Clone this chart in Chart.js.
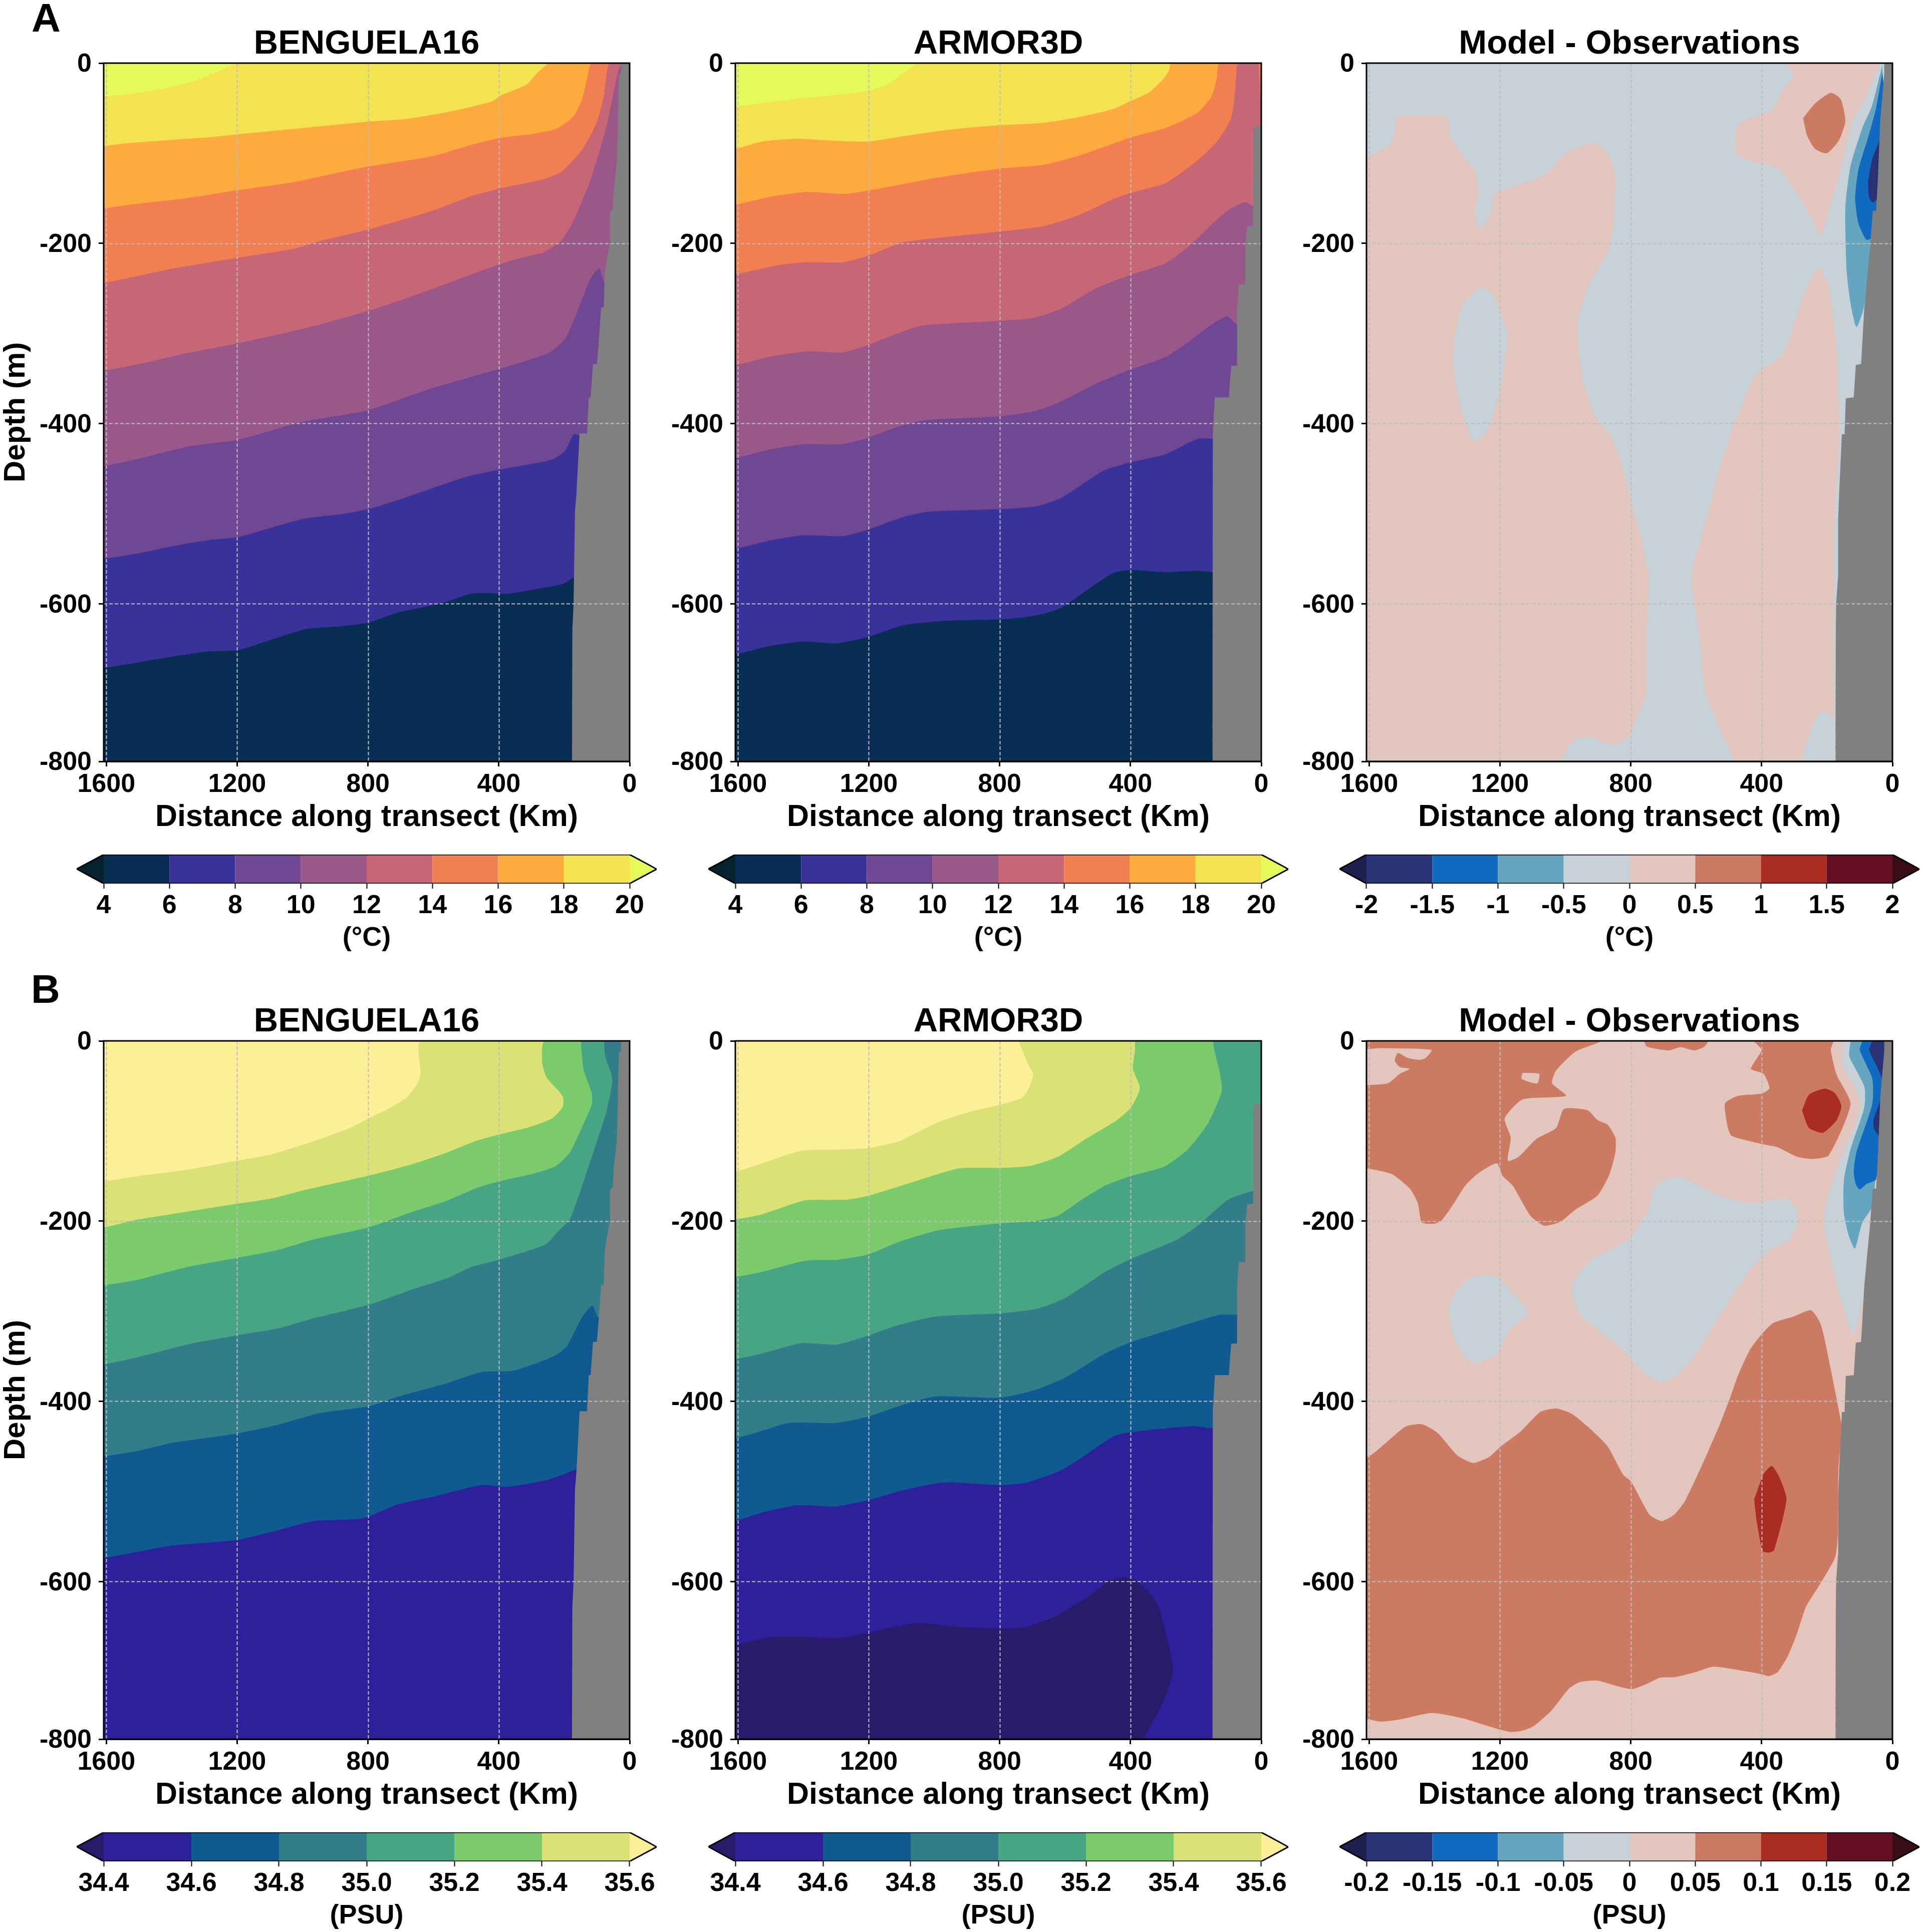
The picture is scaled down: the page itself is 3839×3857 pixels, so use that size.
<!DOCTYPE html>
<html><head><meta charset="utf-8">
<script src="https://cdn.jsdelivr.net/npm/chart.js@4"></script>
<style>
html,body{margin:0;padding:0;background:#fff}
body{position:relative;width:3839px;height:3857px;overflow:hidden;font-family:"Liberation Sans",Arial,sans-serif}
canvas{position:absolute}
.tag{position:absolute;font:bold 80px/1 "Liberation Sans",Arial,sans-serif;color:#000}
</style></head><body>
<div class="tag" style="left:63px;top:-4px">A</div>
<div class="tag" style="left:62px;top:1935px">B</div>
<script>
/* ---------- axes ---------- */
const X_TICKS=[1600,1200,800,400,0];
const X_LABELS=['1600','1200','800','400','0'];
const Y_TICKS=[0,-200,-400,-600,-775];
const Y_LABELS=['0','-200','-400','-600','-800'];
const X_EDGE=1608, Y_EDGE=-775;

/* ---------- colour bars ---------- */
const T_LEVELS=[4,6,8,10,12,14,16,18,20];
const T_LABELS=['4','6','8','10','12','14','16','18','20'];
const T_COLORS=['#04232f','#082e54','#39329a','#704793','#9a5789','#c76674','#f17f52','#fdab3e','#f3e350','#e6f95a'];
const S_LEVELS=[34.4,34.6,34.8,35.0,35.2,35.4,35.6];
const S_LABELS=['34.4','34.6','34.8','35.0','35.2','35.4','35.6'];
const S_COLORS=['#2a1a6a','#2e209a','#0f5a90','#317d8a','#48a583','#7bcb6c','#dae275','#fdee98'];
const DT_LEVELS=[-2,-1.5,-1,-0.5,0,0.5,1,1.5,2];
const DT_LABELS=['-2','-1.5','-1','-0.5','0','0.5','1','1.5','2'];
const DS_LEVELS=[-0.2,-0.15,-0.1,-0.05,0,0.05,0.1,0.15,0.2];
const DS_LABELS=['-0.2','-0.15','-0.1','-0.05','0','0.05','0.1','0.15','0.2'];
const D_COLORS=['#1d1f4c','#283274','#106ac0','#66a5c0','#c6d2d7','#e2c6bd','#cc7b62','#ab2c22','#650f25','#3a0d19'];
const GREY='#808080';

/* ---------- topography, [km, depth m] ---------- */
const TOPO_MODEL=[[0,0],[26,0],[27,-12],[33,-13],[36,-66],[39,-111],[49,-142],[51.5,-162],[60,-165],[60,-198],[76,-233],[79,-271],[87,-271],[94,-307],[100,-334],[112,-334],[119,-371],[125,-371],[130,-411],[153,-411],[162,-476],[167,-497],[171,-598],[175,-628],[175,-775],[0,-775]];
const TOPO_OBS=[[0,-70],[23.6,-70],[24.7,-181],[43,-181],[49,-204],[49,-245.6],[69,-245.6],[74,-275],[74,-336],[92,-336],[99,-371],[142,-371],[148,-412],[148,-775],[0,-775]];
const TOPO_DIFF=[[0,0],[25,0],[25,-11],[37.5,-66],[43.5,-121],[49.5,-164],[60,-164],[68,-203],[80,-249],[86,-272],[95.5,-334],[112,-335],[118,-371],[142.6,-372],[146,-412],[154.5,-412],[163,-479],[166,-508],[166,-568],[172,-600],[173,-624],[173,-775],[0,-775]];

/* ---------- temperature, BENGUELA16 isotherms ---------- */
const A1_T20=[[1608,-37],[1526,-34],[1434,-29],[1342,-21],[1263,-10],[1197,0]];
const A1_T18=[[1608,-92],[1539,-89],[1395,-85],[1276,-82],[1197,-79],[1026,-73],[803,-65],[684,-62],[553,-54],[421,-42.5],[395,-36],[316,-24],[283,-11],[247,0]];
const A1_T16=[[1608,-161],[1526,-157],[1355,-150],[1197,-141],[1026,-132],[803,-115],[605,-103.5],[487,-91],[395,-83],[303,-79],[224,-73],[171,-59],[145,-40],[129,-15],[118,0]];
const A1_T14=[[1608,-244],[1526,-238],[1395,-228],[1197,-216],[1026,-206],[947,-197.5],[803,-185],[605,-164],[487,-148],[395,-139],[276,-130],[210,-121],[145,-96],[99,-64.5],[79,-36],[63,0]];
const A1_T12=[[1608,-341],[1500,-334],[1355,-322],[1197,-311],[1000,-295],[803,-275.5],[605,-251],[434,-228],[342,-217],[263,-210],[210,-197.5],[171,-174.5],[118,-128],[72,-72],[39,-15],[26,0]];
const A1_T10=[[1608,-447],[1500,-439],[1355,-426],[1197,-418],[1000,-398],[803,-385.5],[605,-361],[395,-339],[250,-322],[197,-306],[158,-274],[118,-238],[92,-228],[75,-244]];
const A1_T8=[[1608,-550],[1500,-544],[1395,-536],[1289,-529.5],[1197,-526],[1000,-506],[868,-500],[799,-495],[717,-486],[605,-472],[487,-458],[395,-451],[237,-440],[197,-430],[171,-412],[155,-413]];
const A1_T6=[[1608,-671],[1500,-665],[1395,-658.5],[1289,-653],[1197,-651.6],[1079,-638],[987,-628],[882,-625],[799,-621],[711,-610],[579,-600],[487,-589],[434,-588],[375,-589],[276,-583],[204,-578],[171,-571],[160,-571]];

/* ---------- temperature, ARMOR3D isotherms ---------- */
const A2_T20=[[1608,-48],[1526,-44.6],[1418,-39.5],[1311,-36],[1204,-31],[1140,-23],[1086,-9],[1048,0]];
const A2_T18=[[1608,-95],[1526,-87],[1418,-84],[1311,-86],[1204,-87],[1075,-80],[946,-73.5],[799,-69],[667,-66.3],[560,-60],[453,-51],[399,-42],[345,-33],[303,-19],[283,-9],[276,0]];
const A2_T16=[[1608,-157],[1504,-148.6],[1392,-143],[1268,-145],[1150,-138],[989,-127],[799,-117],[667,-113],[560,-103],[399,-82.5],[292,-72],[195,-55],[152,-37],[136,-17],[129,0]];
const A2_T14=[[1608,-234],[1472,-224],[1386,-221],[1280,-221],[1204,-214],[1097,-199],[989,-194],[799,-187],[667,-181],[560,-169],[453,-151],[399,-144],[292,-133],[195,-108],[131,-85],[93,-62],[83,-42],[77,-17],[72,0]];
const A2_T12=[[1608,-335],[1504,-326],[1386,-320],[1280,-321],[1204,-313],[1097,-298],[1033,-291],[799,-286],[699,-283],[614,-273],[506,-250],[399,-235],[292,-222],[217,-202],[152,-179],[104,-164],[50,-154],[24,-159]];
const A2_T10=[[1608,-438],[1504,-429],[1397,-423],[1280,-423],[1204,-416],[1097,-402],[1021,-396],[799,-392],[689,-386],[614,-376],[506,-356],[399,-340],[292,-326],[217,-308],[152,-290],[104,-281],[74,-290]];
const A2_T8=[[1608,-539],[1504,-530],[1397,-524],[1280,-525],[1204,-518],[1097,-504],[1021,-498],[799,-495],[689,-492],[614,-483],[485,-453],[399,-443],[292,-434],[195,-417],[147,-417]];
const A2_T6=[[1608,-656],[1504,-647],[1397,-642],[1300,-644],[1204,-637],[1097,-624],[968,-619],[775,-617],[689,-613],[614,-605],[517,-581],[453,-566],[399,-562.5],[292,-565],[195,-563.5],[147,-565]];
const A2_CORNER=[[8,0],[-10,0],[-10,-50],[2,-40]];

/* ---------- temperature, model minus observations ---------- */
const A3_POS_WEST=[[1700,-104],[1608,-104],[1572,-98],[1533,-89],[1518,-72],[1518,-59],[1439,-58],[1361,-60],[1355,-79],[1318,-100],[1276,-121],[1264,-148],[1276,-160],[1270,-180],[1258,-183],[1234,-171],[1222,-157],[1216,-144],[1143,-135],[1059,-123],[992,-98],[908,-89],[871,-100],[847,-123],[853,-178],[871,-210],[932,-249],[962,-284],[962,-309],[944,-355],[903,-395],[860,-414],[828,-445],[796,-490],[769,-526],[746,-567],[750,-626],[753,-702],[775,-721],[801,-744],[834,-755],[866,-756],[903,-750],[936,-748],[968,-750],[989,-757],[1011,-775],[1030,-850],[1700,-850]];
const A3_POS_EAST=[[460,-850],[485,-775],[517,-747],[571,-700],[587,-642],[614,-568],[576,-516],[539,-463.5],[485,-400.5],[472,-391],[430,-352],[394,-338],[334,-323],[303,-291.5],[267,-252.5],[225,-228],[195,-249],[170,-320],[165,-374],[161,-412],[174,-479],[180,-600],[180,-700],[179,-725],[217,-719],[244,-734],[276,-775],[290,-850]];
const A3_POS_COAST=[[327,10],[327,0],[303,-13],[334,-29],[370,-52],[472,-68],[478.5,-100],[436,-109],[352,-116],[303,-139],[255,-167],[219,-191.5],[201,-171],[164,-125],[122,-64.5],[86,-40],[56,-15],[37,0],[37,10]];
const A3_NEG_OVAL=[[1258,-248],[1222,-256],[1197.6,-277],[1177,-302],[1185.5,-330.5],[1197.6,-359],[1234,-405],[1270,-419],[1288,-416],[1318,-384],[1337,-352],[1343,-330.5],[1337,-302],[1313,-267],[1258,-248]];
const A3_WARM=[[273,-61],[237,-45],[188.5,-33],[158,-40],[144,-64.5],[164,-86],[200.6,-100],[237,-95],[261,-80.5],[273,-61]];
const A3_COOL1=[[31,-2.5],[62,-47],[92,-72],[128,-114],[144,-160],[140,-231],[128,-267],[110,-293],[88,-272],[60,-200],[20,-100],[31,-2.5]];
const A3_COOL2=[[31,-11],[50,-50],[74,-82],[104,-118],[114,-150],[104,-178],[80,-196],[64,-194],[40,-150],[20,-50],[31,-11]];
const A3_COOL3=[[31,-36],[37.5,-82],[62,-107],[74,-132],[71,-150],[59,-155],[47,-150],[30,-100],[31,-36]];

/* ---------- salinity, BENGUELA16 isohalines ---------- */
const B1_S356=[[1608,-155.6],[1492,-149.5],[1353,-143],[1203,-133],[1095,-126],[988,-114],[859,-97.3],[798,-86],[741,-76],[682,-63],[650,-48],[639,-35.5],[639,0]];
const B1_S354=[[1608,-207],[1514,-199],[1406,-192.6],[1203,-181],[1095,-175],[988,-165],[798,-149.5],[666,-137],[559,-124],[473,-111.5],[400,-104],[312,-96.3],[237,-86],[205,-73.5],[203,-63],[216,-56],[253,-41],[267,-25],[261,0]];
const B1_S352=[[1608,-271],[1503,-265],[1353,-251],[1203,-241],[1074,-232],[967,-220.5],[798,-207],[666,-190],[559,-177.5],[473,-164],[400,-156],[291,-147],[226,-139],[183,-124],[146,-96],[116,-71],[116,-58],[140,-33],[146,-15],[146,0]];
const B1_S350=[[1608,-359],[1503,-351],[1353,-337],[1203,-327],[1074,-319],[967,-308],[798,-293],[666,-276],[559,-263.5],[484,-251],[400,-243],[258,-226],[216,-210.5],[183,-198],[151,-167],[114,-127],[71,-78.6],[53,-45.6],[57,-35.5],[74,-18],[76,0]];
const B1_S348=[[1608,-461],[1503,-455],[1396,-446],[1203,-436],[1074,-426],[945,-413],[798,-405.5],[709,-395],[559,-380],[452,-367.5],[355,-366],[237,-351],[194,-340],[146,-307],[114,-294],[94,-307]];
const B1_S346=[[1608,-574],[1503,-567],[1396,-560],[1203,-554],[1074,-543],[967,-533],[817,-530],[709,-514.5],[602,-506],[452,-493],[377,-495],[259,-488],[194,-480],[165,-476]];

/* ---------- salinity, ARMOR3D isohalines ---------- */
const B2_S356=[[1608,-145],[1552,-139],[1407,-122],[1298,-120.6],[1202,-119],[1105,-111],[984,-89.7],[876,-77.3],[799.5,-71],[731,-63],[706.5,-49],[698,-36.5],[712.5,-26],[731,-10],[739,0]];
const B2_S354=[[1608,-198],[1527,-192.6],[1394,-177],[1274,-176.4],[1202,-172],[1081,-158.5],[924,-141.5],[799.5,-141],[706.5,-138.7],[622,-128.7],[537,-109],[441,-87.9],[398.5,-73.8],[371,-52.5],[392.5,-31],[386,-10],[384,0]];
const B2_S352=[[1608,-262],[1527,-256.4],[1394,-244],[1298,-243],[1202,-237],[1105,-222.7],[984,-210],[799.5,-202.5],[694.6,-200],[622,-194],[549.5,-176.4],[477,-160.6],[398.5,-150],[296,-139.4],[223,-119.9],[163,-91.5],[121,-56],[127,-34.8],[139,-17],[145,0]];
const B2_S350=[[1608,-353],[1527,-347],[1407,-335.6],[1298,-337],[1202,-327],[1105,-315],[997,-306],[799.5,-302.5],[682,-297],[598,-285],[477,-256.4],[398.5,-242],[260,-221],[187,-203],[103,-176.6],[24,-166.7]];
const B2_S348=[[1608,-441],[1552,-435.6],[1443,-424],[1298,-424],[1202,-417],[1105,-405],[997,-394.7],[799.5,-396],[694.6,-387.8],[598,-373.4],[477,-346.8],[398.5,-334.4],[260,-318.4],[127,-304],[75,-304]];
const B2_S346=[[1608,-532.6],[1526,-523.5],[1418,-515.5],[1300,-516.7],[1200,-509.6],[1097,-499],[968,-490],[799,-493],[721,-490.5],[614,-477],[539,-460],[453,-439],[399,-434.4],[292,-430],[206,-427.5],[148,-430]];
const B2_S344=[[1700,-672],[1606,-670],[1504,-662],[1397,-661.6],[1290,-662.8],[1200,-656.7],[1054,-646],[946,-650],[799,-652],[721,-650.6],[635,-639.6],[581.5,-628.6],[517,-614],[463.5,-599],[420.6,-595.6],[383,-599],[345.5,-611.5],[313,-628.6],[270,-698],[302.6,-736],[356,-774],[380,-850],[1700,-850]];

/* ---------- salinity, model minus observations ---------- */
const B3_POS_DEEP=[[1700,-462],[1606,-462],[1542,-444],[1488,-428],[1439,-425.5],[1391,-435],[1330,-460],[1282,-468.4],[1234,-462],[1197,-450],[1137,-433.7],[1077,-412],[1028,-408],[980,-414],[932,-428],[871,-450],[823,-481.6],[799,-489],[742.6,-526],[705,-533],[667.6,-526],[635,-511],[587,-474.7],[560,-452.7],[528,-425.8],[496.7,-396.5],[472.5,-371.6],[436,-343],[400,-325.5],[363.7,-313],[303,-306],[249,-299],[218.7,-315],[188.5,-364.5],[158,-421],[154.5,-431],[165,-475],[167,-548],[174,-572],[195,-587],[227.5,-606.6],[265,-628.6],[292,-658],[318.7,-682],[351,-700.7],[377.7,-705],[399,-703],[453,-699.4],[549,-694.6],[603,-700.7],[662,-706],[710,-706.8],[753,-714],[796,-719.5],[838.6,-716.5],[903.4,-710],[957,-711.7],[989,-719],[1043,-743.4],[1097,-760.5],[1129,-765.4],[1166,-767],[1204,-764],[1258,-758],[1311.6,-752],[1408,-745.9],[1504.7,-753],[1563.7,-755.6],[1603,-753],[1700,-753]];
const B3_POS_WEST=[[1700,10],[889.4,10],[889.4,0],[968,-11.7],[1028.4,-33],[1040.5,-47],[998,-61],[1131,-65],[1185.5,-86],[1167,-107.4],[1175.8,-133],[1143,-128.7],[1089,-109],[1028.4,-96.8],[1004,-75.5],[931.7,-77],[901.5,-88],[871,-93],[847,-107.4],[847,-123.4],[865,-148],[901.5,-171.6],[968,-187],[1016,-201],[1064.7,-205],[1107,-194],[1161,-160.6],[1191.5,-150],[1209.7,-135.8],[1270,-148],[1306,-160.6],[1336.6,-178],[1379,-199.6],[1403,-203],[1439,-201.4],[1451,-180],[1475.5,-164],[1530,-148],[1606,-141.8],[1700,-141.8]];
const B3_POCKET_A=[[1700,-9],[1606,-9],[1560,-8],[1409,-10],[1427,-19],[1445,-21],[1481.5,-19],[1512,-13.5],[1521.5,-22],[1506,-29],[1475.5,-31],[1506,-36.5],[1542,-47],[1606,-49],[1700,-49]];
const B3_POCKET_B=[[1131,-35.5],[1080,-36.5],[1085,-47],[1107,-46],[1134,-42],[1131,-35.5]];
const B3_POS_TOP=[[759,10],[759,0],[750.6,-6.4],[684,-10.6],[648,-7],[605.4,-10.6],[575,-6.4],[563,0],[563,10]];
const B3_POS_COAST=[[424,10],[424,0],[400,-10],[432.6,-31],[394,-36.5],[376,-52.5],[400,-58.5],[472.5,-61],[512,-69.5],[503,-96.8],[490.6,-105.7],[400,-114.5],[351.7,-118],[291,-128.7],[243,-131],[194.6,-127],[128,-70],[170.4,-38],[188.5,-10],[180,0],[180,10]];
const B3_HOT_UP=[[276.7,-77.3],[255,-59.6],[206.6,-53],[176.4,-57.8],[156,-72],[170.4,-88],[212.7,-102],[255,-96.8],[276.7,-77.3]];
const B3_HOT_LOW=[[422.7,-509],[393.8,-480.8],[369,-471.7],[345.5,-484.4],[324,-509],[361.6,-565],[377.7,-568],[397,-566.3],[415,-533.3],[422.7,-509]];
const B3_NEG_BIG=[[690,-152.5],[635.6,-152.5],[533,-171.3],[436,-180],[321.5,-175.5],[297,-183.7],[289,-201.4],[321.5,-222.7],[376,-231.6],[430,-251],[496.7,-286.5],[593,-343],[660,-371.6],[708,-378.7],[756.5,-370],[811,-346.8],[883.4,-325.5],[955.9,-302.5],[980,-272],[925.7,-244],[859,-231.6],[799,-217.4],[750.4,-190.8],[726,-162.4],[690,-152.5]];
const B3_NEG_SMALL=[[1258,-260],[1209.7,-261.7],[1161,-279.4],[1115,-300.7],[1173,-322],[1209.7,-346.8],[1270,-357.4],[1306,-352],[1342.6,-325.5],[1357,-300.7],[1337,-279.4],[1300,-265],[1258,-260]];
const B3_COOL0=[[152,10],[152,0],[152,-27.7],[116,-50.7],[98,-70],[116,-95],[152,-123.4],[194.6,-169.5],[210,-201.4],[182.5,-251],[152,-293.6],[118,-327],[86,-276],[60,-150],[20,-50],[20,10]];
const B3_COOL1=[[128,10],[128,0],[132,-17],[86,-50.7],[86,-73.8],[128,-120],[148.6,-155],[148.6,-190.8],[134,-215.6],[115,-230.5],[92,-201.4],[61.6,-183.7],[40,-100],[20,10]];
const B3_COOL2=[[92,10],[92,0],[100,-10],[61.6,-41.8],[61.6,-70],[110,-123.4],[118.4,-144.7],[112.4,-158.9],[100,-165],[80,-159],[49.5,-153.5],[30,-80],[20,10]];
const B3_COOL3=[[61.6,10],[61.6,0],[71,-10],[31.4,-41.8],[31.4,-59.6],[58,-88],[55.6,-98.6],[37.5,-105.7],[20,-60],[20,10]];

/* ---------- layout ---------- */
const COLS=[207,1468,2728], PLOT_W=1050;
const ROWS=[126,2078], PLOT_H=1394;
const MARGIN_L=205, MARGIN_R=25, MARGIN_T=90, MARGIN_B=155;
const BAR_H=58, BAR_EXT=54;
const FONT='"Liberation Sans", Arial, sans-serif';
Chart.defaults.font.family=FONT;
Chart.defaults.font.weight='bold';
Chart.defaults.color='#000';

const OUT=[1700,-100,100,-900]; // beyond the axes, clipped by the plot area
const ALL=[[OUT[0],OUT[2]],[OUT[1],OUT[2]],[OUT[1],OUT[3]],[OUT[0],OUT[3]]];
function below(c){
  const first=c[0], last=c[c.length-1];
  return [[OUT[0],first[1]],...c,[OUT[1],last[1]===0?OUT[2]:last[1]],[OUT[1],OUT[3]],[OUT[0],OUT[3]]];
}
function shape(points,color,tension){
  return {data:points.map(p=>({x:p[0],y:p[1]})),showLine:true,fill:'shape',backgroundColor:color,
    borderWidth:0,pointRadius:0,pointHitRadius:0,tension:tension===undefined?0.2:tension};
}
const sharp=(p,c)=>shape(p,c,0.0001);

/* dashed grid over the filled bands, then the four-sided frame */
const overlay={id:'overlay',
  afterDatasetsDraw(ch){
    const a=ch.chartArea,c=ch.ctx;c.save();c.strokeStyle='#bdbdbd';c.lineWidth=2;c.setLineDash([7,4]);
    c.beginPath();
    X_TICKS.slice(0,-1).forEach(v=>{const x=Math.round(ch.scales.x.getPixelForValue(v))+0.5;c.moveTo(x,a.top);c.lineTo(x,a.bottom);});
    Y_TICKS.slice(1,-1).forEach(v=>{const y=Math.round(ch.scales.y.getPixelForValue(v))+0.5;c.moveTo(a.left,y);c.lineTo(a.right,y);});
    c.stroke();c.restore();
  },
  afterDraw(ch){
    const a=ch.chartArea,c=ch.ctx;c.save();c.strokeStyle='#000';c.lineWidth=3;
    c.strokeRect(a.left,a.top,a.right-a.left,a.bottom-a.top);c.restore();
  }};

function panel(col,row,title,layers,withYTitle){
  const cv=document.createElement('canvas');
  const w=MARGIN_L+PLOT_W+MARGIN_R,h=MARGIN_T+PLOT_H+MARGIN_B;
  cv.width=w;cv.height=h;
  cv.style.cssText=`left:${COLS[col]-MARGIN_L}px;top:${ROWS[row]-MARGIN_T}px;width:${w}px;height:${h}px`;
  document.body.appendChild(cv);
  const grid={drawOnChartArea:false,tickLength:10,tickColor:'#000',tickWidth:3};
  const border={color:'#000',width:3};
  new Chart(cv,{type:'scatter',plugins:[overlay],
    data:{datasets:layers.slice().reverse()},
    options:{responsive:false,animation:false,devicePixelRatio:1,events:[],
      layout:{padding:{left:0,top:0,right:MARGIN_R,bottom:0}},
      plugins:{legend:{display:false},tooltip:{enabled:false},
        title:{display:true,fullSize:false,text:title,color:'#000',font:{size:67,weight:'bold',lineHeight:1},padding:{top:19,bottom:4}}},
      scales:{
        x:{type:'linear',reverse:true,min:0,max:X_EDGE,grid,border,
          afterBuildTicks:s=>{s.ticks=X_TICKS.map(value=>({value}));},
          afterFit:s=>{s.height=MARGIN_B;},
          ticks:{autoSkip:false,maxRotation:0,minRotation:0,padding:5,font:{size:52},callback:(v,i)=>X_LABELS[i]},
          title:{display:true,text:'Distance along transect (Km)',color:'#000',font:{size:61,lineHeight:1},padding:{top:0,bottom:12}}},
        y:{type:'linear',min:Y_EDGE,max:0,grid,border,
          afterBuildTicks:s=>{s.ticks=Y_TICKS.map(value=>({value}));},
          afterFit:s=>{s.width=MARGIN_L;},
          ticks:{autoSkip:false,maxRotation:0,minRotation:0,padding:14,labelOffset:3,font:{size:52},callback:(v,i)=>Y_LABELS[i]},
          title:{display:!!withYTitle,text:'Depth (m)',color:'#000',font:{size:60,lineHeight:1},padding:{top:0,bottom:2}}}
      }}});
}

function colorbar(col,row,levels,labels,colors,unit){
  const pad=5,lo=levels[0],hi=levels[levels.length-1];
  const ext=(hi-lo)*BAR_EXT/PLOT_W;
  const sets=[sharp([[lo,0],[lo-ext,0.5],[lo,1]],colors[0])];
  for(let i=0;i<levels.length-1;i++)sets.push(sharp([[levels[i],0],[levels[i+1],0],[levels[i+1],1],[levels[i],1]],colors[i+1]));
  sets.push(sharp([[hi,0],[hi+ext,0.5],[hi,1]],colors[colors.length-1]));
  sets.push({data:[[lo,0],[lo-ext,0.5],[lo,1],[hi,1],[hi+ext,0.5],[hi,0],[lo,0]].map(p=>({x:p[0],y:p[1]})),
    showLine:true,fill:false,borderColor:'#000',borderWidth:3,pointRadius:0,tension:0.0001});
  const cv=document.createElement('canvas');
  const w=PLOT_W+2*BAR_EXT+2*pad,below_=141,h=BAR_H+pad*2+below_;
  cv.width=w;cv.height=h;
  cv.style.cssText=`left:${COLS[col]-BAR_EXT-pad}px;top:${ROWS[row]+PLOT_H+186-pad}px;width:${w}px;height:${h}px`;
  document.body.appendChild(cv);
  new Chart(cv,{type:'scatter',data:{datasets:sets.reverse()},
    options:{responsive:false,animation:false,devicePixelRatio:1,events:[],
      layout:{padding:{left:pad,right:pad,top:pad,bottom:0}},
      plugins:{legend:{display:false},tooltip:{enabled:false}},
      scales:{
        x:{type:'linear',min:lo-ext,max:hi+ext,
          border:{display:false},
          grid:{drawOnChartArea:false,tickLength:10,tickColor:'#000',tickWidth:2},
          afterBuildTicks:s=>{s.ticks=levels.map(value=>({value}));},
          afterFit:s=>{s.height=below_+pad;},
          ticks:{autoSkip:false,maxRotation:0,minRotation:0,padding:3,font:{size:52},callback:(v,i)=>labels[i]},
          title:{display:true,text:unit,color:'#000',font:{size:54,lineHeight:1},padding:{top:0,bottom:10}}},
        y:{type:'linear',min:0,max:1,display:false}
      }}});
}

/* ---------- panels, painted back to front ---------- */
const TC=T_COLORS,SC=S_COLORS,DC=D_COLORS;
panel(0,0,'BENGUELA16',[sharp(ALL,TC[9]),shape(below(A1_T20),TC[8]),shape(below(A1_T18),TC[7]),shape(below(A1_T16),TC[6]),shape(below(A1_T14),TC[5]),shape(below(A1_T12),TC[4]),shape(below(A1_T10),TC[3]),shape(below(A1_T8),TC[2]),shape(below(A1_T6),TC[1]),sharp(TOPO_MODEL,GREY)],true);
panel(1,0,'ARMOR3D',[sharp(ALL,TC[9]),shape(below(A2_T20),TC[8]),shape(below(A2_T18),TC[7]),shape(below(A2_T16),TC[6]),shape(below(A2_T14),TC[5]),sharp(A2_CORNER,TC[6]),shape(below(A2_T12),TC[4]),shape(below(A2_T10),TC[3]),shape(below(A2_T8),TC[2]),shape(below(A2_T6),TC[1]),sharp(TOPO_OBS,GREY)]);
panel(2,0,'Model - Observations',[sharp(ALL,DC[4]),shape(A3_POS_WEST,DC[5]),shape(A3_POS_EAST,DC[5]),shape(A3_POS_COAST,DC[5]),shape(A3_NEG_OVAL,DC[4]),shape(A3_WARM,DC[6]),shape(A3_COOL1,DC[3]),shape(A3_COOL2,DC[2]),shape(A3_COOL3,DC[1]),sharp(TOPO_DIFF,GREY)]);
panel(0,1,'BENGUELA16',[sharp(ALL,SC[7]),shape(below(B1_S356),SC[6]),shape(below(B1_S354),SC[5]),shape(below(B1_S352),SC[4]),shape(below(B1_S350),SC[3]),shape(below(B1_S348),SC[2]),shape(below(B1_S346),SC[1]),sharp(TOPO_MODEL,GREY)],true);
panel(1,1,'ARMOR3D',[sharp(ALL,SC[7]),shape(below(B2_S356),SC[6]),shape(below(B2_S354),SC[5]),shape(below(B2_S352),SC[4]),shape(below(B2_S350),SC[3]),shape(below(B2_S348),SC[2]),shape(below(B2_S346),SC[1]),shape(B2_S344,SC[0]),sharp(TOPO_OBS,GREY)]);
panel(2,1,'Model - Observations',[sharp(ALL,DC[5]),shape(B3_POS_DEEP,DC[6]),shape(B3_POS_WEST,DC[6]),shape(B3_POCKET_A,DC[5]),shape(B3_POCKET_B,DC[5]),shape(B3_POS_TOP,DC[6]),shape(B3_POS_COAST,DC[6]),shape(B3_HOT_UP,DC[7]),shape(B3_HOT_LOW,DC[7]),shape(B3_NEG_BIG,DC[4]),shape(B3_NEG_SMALL,DC[4]),shape(B3_COOL0,DC[4]),shape(B3_COOL1,DC[3]),shape(B3_COOL2,DC[2]),shape(B3_COOL3,DC[1]),sharp(TOPO_DIFF,GREY)]);

colorbar(0,0,T_LEVELS,T_LABELS,T_COLORS,'(°C)');
colorbar(1,0,T_LEVELS,T_LABELS,T_COLORS,'(°C)');
colorbar(2,0,DT_LEVELS,DT_LABELS,D_COLORS,'(°C)');
colorbar(0,1,S_LEVELS,S_LABELS,S_COLORS,'(PSU)');
colorbar(1,1,S_LEVELS,S_LABELS,S_COLORS,'(PSU)');
colorbar(2,1,DS_LEVELS,DS_LABELS,D_COLORS,'(PSU)');
</script>
</body></html>
